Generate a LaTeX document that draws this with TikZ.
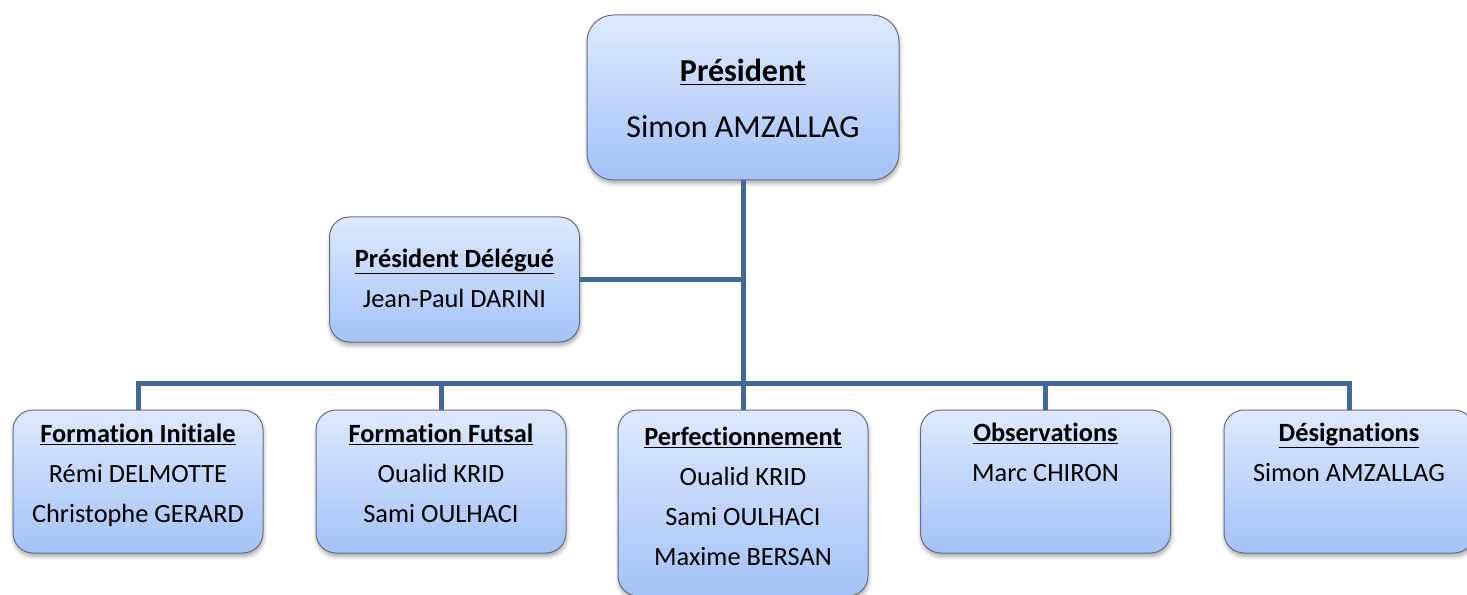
\documentclass[tikz,border=0pt]{standalone}
\usepackage{fontspec}
\setmainfont{Carlito}[Ligatures=NoCommon]
\usetikzlibrary{shadows.blur}
\definecolor{linkblue}{RGB}{65,104,152}
\definecolor{boxtop}{RGB}{222,233,253}
\definecolor{boxbot}{RGB}{164,194,247}
\definecolor{boxline}{RGB}{100,112,130}
\tikzset{every picture/.style={line width=0.75pt}}
\tikzset{
  unit/.style={draw=boxline, rounded corners=15pt, top color=boxtop, bottom color=boxbot,
    blur shadow={shadow xshift=0.5pt, shadow yshift=-2.5pt, shadow blur radius=3pt, shadow opacity=35},
    minimum width=187.5pt, minimum height=107.25pt, inner sep=0pt},
  lbl/.style={inner sep=0pt, align=center, anchor=base, font=\fontsize{19.75}{30}\selectfont},
  link/.style={draw=linkblue, line width=3.75pt},
}
\newcommand{\head}[1]{\textbf{\underline{#1}}}

\begin{document}
\begin{tikzpicture}[x=0.75pt,y=0.75pt,yscale=-1,xscale=1]
\useasboundingbox (0,0) rectangle (1467,595);
\clip (0,0) rectangle (1467,595);

%Boxes
\node[unit, rounded corners=20pt, minimum width=234pt, minimum height=123.75pt] (pres) at (743,97.5) {};
\node[unit, minimum height=93.75pt] (del) at (454.5,279.5) {};
\node[unit] (fi) at (138,481.5) {};
\node[unit] (ff) at (441,481.5) {};
\node[unit, minimum height=139.5pt] (perf) at (743,503) {};
\node[unit] (obs) at (1045.5,481.5) {};
\node[unit] (des) at (1349,481.5) {};

%Connectors
\coordinate (hub) at (743,383);
\draw[link] (pres.south) -- (hub);
\draw[link] (del.east) -- (del.east -| hub);
\draw[link] (perf.north) -- (hub);
\foreach \n in {fi,ff,obs,des}
  \draw[link] (\n.north) |- (hub);

% Text Node (anchor on last line)
\node[lbl, font=\fontsize{24}{42}\selectfont] (prestxt) at (743,138) {\head{Président}\\Simon AMZALLAG};
% Text Node
\node[lbl] (deltxt) at (454.5,307) {\head{Président Délégué}\\Jean-Paul DARINI};
% Text Node
\node[lbl] (fitxt) at (138,522) {\head{Formation Initiale}\\Rémi DELMOTTE\\Christophe GERARD};
% Text Node
\node[lbl] (fftxt) at (441,522) {\head{Formation Futsal}\\Oualid KRID\\Sami OULHACI};
% Text Node
\node[lbl] (perftxt) at (743,565) {\head{Perfectionnement}\\Oualid KRID\\Sami OULHACI\\Maxime BERSAN};
% Text Node
\node[lbl] (obstxt) at (1045.5,481) {\head{Observations}\\Marc CHIRON};
% Text Node
\node[lbl] (destxt) at (1349,481) {\head{Désignations}\\Simon AMZALLAG};
\end{tikzpicture}
\end{document}
